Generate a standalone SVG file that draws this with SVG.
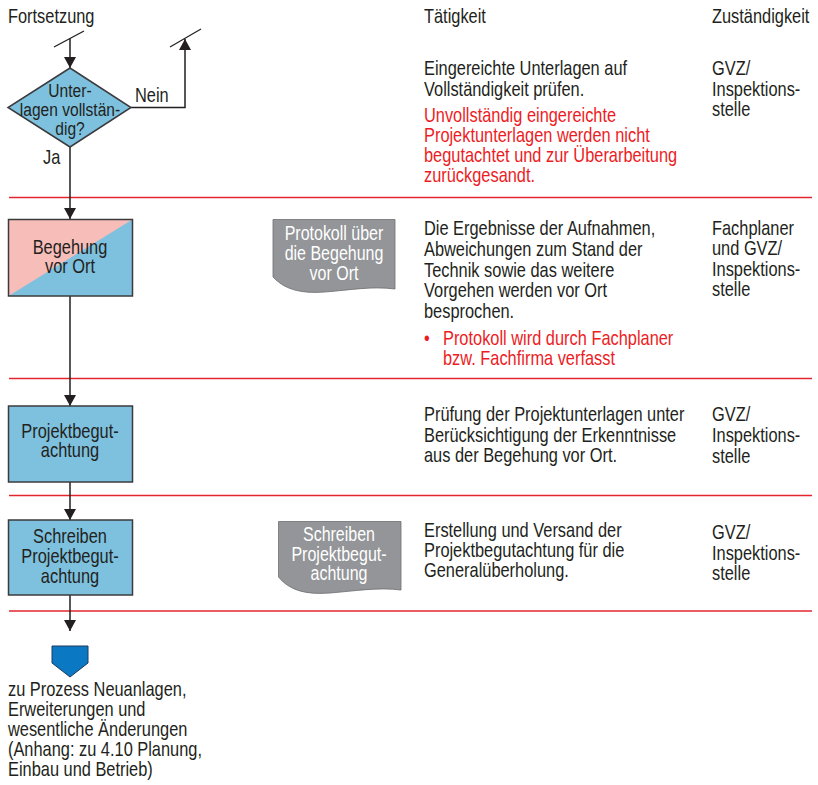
<svg xmlns="http://www.w3.org/2000/svg" width="818" height="785" viewBox="0 0 818 785">
  <defs>
    <style>
      text { font-family: "Liberation Sans", Arial, sans-serif; font-size: 20px; fill: #231f20; }
      .red { fill: #ed1c24; }
      .mid { text-anchor: middle; }
      .doc-t { fill: #ffffff; font-size: 19.5px; text-anchor: middle; }
      .dia-t { font-size: 19px; text-anchor: middle; }
      .sep { stroke: #e3262e; stroke-width: 1.3; }
      .box { fill: #7dc1df; stroke: #3b3b3d; stroke-width: 1.5; }
      .doc { fill: #939598; stroke: #6d6e71; stroke-width: 0.8; }
      .conn { fill: none; stroke: #231f20; stroke-width: 1.5; }
      .tick { fill: none; stroke: #231f20; stroke-width: 1.2; }
    </style>
    <marker id="arrow" viewBox="0 0 11 12" refX="11" refY="6" markerWidth="11" markerHeight="12" markerUnits="userSpaceOnUse" orient="auto">
      <path d="M0,0 L11,6 L0,12 Z" fill="#231f20"/>
    </marker>
  </defs>

  <!-- narrow lettering: every text block is squeezed horizontally by 0.82, so x values are divided by 0.82 -->

  <!-- column headers -->
  <g id="headers">
    <g transform="scale(0.82 1)">
      <text x="9.756" y="23">Fortsetzung</text>
      <text x="517.073" y="23">Tätigkeit</text>
      <text x="868.293" y="23">Zuständigkeit</text>
    </g>
  </g>

  <!-- row separators -->
  <g id="separators">
    <line class="sep" x1="9" y1="197.5" x2="812" y2="197.5"/>
    <line class="sep" x1="9" y1="378.5" x2="812" y2="378.5"/>
    <line class="sep" x1="9" y1="495.5" x2="812" y2="495.5"/>
    <line class="sep" x1="9" y1="611" x2="812" y2="611"/>
  </g>

  <!-- connectors -->
  <g id="connectors">
    <line class="tick" x1="54" y1="47" x2="84" y2="31"/>
    <line class="conn" x1="70" y1="38.5" x2="70" y2="68" marker-end="url(#arrow)"/>
    <path class="conn" d="M131,107.5 H185 V39" marker-end="url(#arrow)"/>
    <line class="tick" x1="170" y1="47" x2="201" y2="29"/>
    <line class="conn" x1="70" y1="147" x2="70" y2="219" marker-end="url(#arrow)"/>
    <line class="conn" x1="70" y1="296" x2="70" y2="406" marker-end="url(#arrow)"/>
    <line class="conn" x1="70" y1="482" x2="70" y2="520" marker-end="url(#arrow)"/>
    <line class="conn" x1="70" y1="595" x2="70" y2="631" marker-end="url(#arrow)"/>
    <g transform="scale(0.82 1)">
      <text x="164.634" y="102">Nein</text>
      <text x="52.439" y="164">Ja</text>
    </g>
  </g>

  <!-- decision: documents complete? -->
  <g id="decision">
    <polygon class="box" points="70,68 131,107.5 70,147 8,107.5"/>
    <g transform="scale(0.82 1)">
      <text class="dia-t" x="85.366" y="97">Unter-</text>
      <text class="dia-t" x="85.366" y="116">lagen vollstän-</text>
      <text class="dia-t" x="85.366" y="135">dig?</text>
    </g>
  </g>

  <g id="text-check">
    <g transform="scale(0.82 1)">
      <text x="517.073" y="75">Eingereichte Unterlagen auf</text>
      <text x="517.073" y="96">Vollständigkeit prüfen.</text>
      <text class="red" x="517.073" y="122.5">Unvollständig eingereichte</text>
      <text class="red" x="517.073" y="142.5">Projektunterlagen werden nicht</text>
      <text class="red" x="517.073" y="162.5">begutachtet und zur Überarbeitung</text>
      <text class="red" x="517.073" y="182.5">zurückgesandt.</text>
      <text x="868.293" y="75">GVZ/</text>
      <text x="868.293" y="96">Inspektions-</text>
      <text x="868.293" y="116">stelle</text>
    </g>
  </g>

  <!-- site inspection -->
  <g id="begehung">
    <rect x="8.5" y="219.5" width="124" height="76.5" fill="#7dc1df"/>
    <polygon points="8.5,219.5 132.5,219.5 8.5,296" fill="#f7bdb9"/>
    <rect x="8.5" y="219.5" width="124" height="76.5" fill="none" stroke="#3b3b3d" stroke-width="1.5"/>
    <g transform="scale(0.82 1)">
      <text class="mid" x="85.366" y="254">Begehung</text>
      <text class="mid" x="85.366" y="273">vor Ort</text>
    </g>
  </g>

  <g id="doc-protokoll">
    <path class="doc" d="M273,219.5 H395 V289 C372,286 350,290 325,292 C300,294 284,289 273,277 Z"/>
    <g transform="scale(0.82 1)">
      <text class="doc-t" x="407.317" y="240">Protokoll über</text>
      <text class="doc-t" x="407.317" y="260">die Begehung</text>
      <text class="doc-t" x="407.317" y="280">vor Ort</text>
    </g>
  </g>

  <g id="text-begehung">
    <g transform="scale(0.82 1)">
      <text x="517.073" y="235.5">Die Ergebnisse der Aufnahmen,</text>
      <text x="517.073" y="256">Abweichungen zum Stand der</text>
      <text x="517.073" y="277">Technik sowie das weitere</text>
      <text x="517.073" y="297.5">Vorgehen werden vor Ort</text>
      <text x="517.073" y="318">besprochen.</text>
      <text class="red" x="517.073" y="345">•</text>
      <text class="red" x="540.244" y="345">Protokoll wird durch Fachplaner</text>
      <text class="red" x="540.244" y="365">bzw. Fachfirma verfasst</text>
      <text x="868.293" y="235">Fachplaner</text>
      <text x="868.293" y="255.5">und GVZ/</text>
      <text x="868.293" y="276">Inspektions-</text>
      <text x="868.293" y="296.5">stelle</text>
    </g>
  </g>

  <!-- project assessment -->
  <g id="projektbegutachtung">
    <rect class="box" x="8.5" y="406" width="124" height="76"/>
    <g transform="scale(0.82 1)">
      <text class="mid" x="85.366" y="438">Projektbegut-</text>
      <text class="mid" x="85.366" y="457.5">achtung</text>
    </g>
  </g>

  <g id="text-pruefung">
    <g transform="scale(0.82 1)">
      <text x="517.073" y="421">Prüfung der Projektunterlagen unter</text>
      <text x="517.073" y="442">Berücksichtigung der Erkenntnisse</text>
      <text x="517.073" y="462.5">aus der Begehung vor Ort.</text>
      <text x="868.293" y="421">GVZ/</text>
      <text x="868.293" y="442">Inspektions-</text>
      <text x="868.293" y="463">stelle</text>
    </g>
  </g>

  <!-- writing the assessment -->
  <g id="schreiben">
    <rect class="box" x="8.5" y="520" width="124" height="75"/>
    <g transform="scale(0.82 1)">
      <text class="mid" x="85.366" y="543">Schreiben</text>
      <text class="mid" x="85.366" y="563">Projektbegut-</text>
      <text class="mid" x="85.366" y="583">achtung</text>
    </g>
  </g>

  <g id="doc-schreiben">
    <path class="doc" d="M278.5,521.5 H401 V590 C378,587 355,591 330,593 C305,595 289,590 278.5,577 Z"/>
    <g transform="scale(0.82 1)">
      <text class="doc-t" x="413.415" y="541">Schreiben</text>
      <text class="doc-t" x="413.415" y="561">Projektbegut-</text>
      <text class="doc-t" x="413.415" y="580">achtung</text>
    </g>
  </g>

  <g id="text-versand">
    <g transform="scale(0.82 1)">
      <text x="517.073" y="537">Erstellung und Versand der</text>
      <text x="517.073" y="557">Projektbegutachtung für die</text>
      <text x="517.073" y="577">Generalüberholung.</text>
      <text x="868.293" y="539">GVZ/</text>
      <text x="868.293" y="560">Inspektions-</text>
      <text x="868.293" y="580">stelle</text>
    </g>
  </g>

  <!-- off-page connector -->
  <g id="off-page">
    <polygon points="52,646 88,646 88,663 70,677 52,663" fill="#0b78c4" stroke="#1e3a5c" stroke-width="1"/>
    <g transform="scale(0.82 1)">
      <text x="9.756" y="696">zu Prozess Neuanlagen,</text>
      <text x="9.756" y="716">Erweiterungen und</text>
      <text x="9.756" y="736">wesentliche Änderungen</text>
      <text x="9.756" y="756">(Anhang: zu 4.10 Planung,</text>
      <text x="9.756" y="776">Einbau und Betrieb)</text>
    </g>
  </g>
</svg>
